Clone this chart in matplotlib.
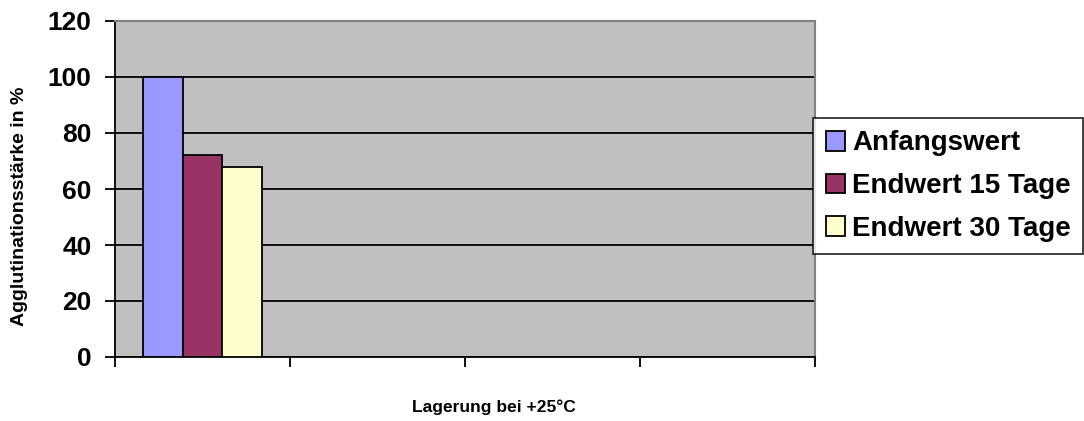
import matplotlib.pyplot as plt
import numpy as np

plt.rcParams['font.family'] = ['Liberation Sans', 'DejaVu Sans']
plt.rcParams['font.weight'] = 'bold'

# storage condition slots on the x axis (only the first one has data)
n_slots = 4
series = ["Anfangswert", "Endwert 15 Tage", "Endwert 30 Tage"]
values = [100, 72, 68]
colors = ["#9999FF", "#993366", "#FFFFCC"]
yticks = [0, 20, 40, 60, 80, 100, 120]

fig = plt.figure(figsize=(10.84, 4.21), dpi=100)
ax = fig.add_axes([115/1084, 1 - 357/421, 700/1084, 336/421])
ax.set_facecolor("#C0C0C0")

width = 0.225
offsets = (np.arange(len(series)) - 1) * width
for i, (name, v, c) in enumerate(zip(series, values, colors)):
    ax.bar(0.5 + offsets[i], v, width=width, color=c, edgecolor="black",
           linewidth=1.3, label=name, zorder=3)

ax.set_xlim(0, n_slots)
ax.set_ylim(0, 120)
ax.set_yticks(yticks)
ax.set_yticklabels([str(t) for t in yticks], fontsize=19, fontweight="bold")
ax.set_xticks(np.arange(n_slots + 1))
ax.set_xticklabels([])
ax.yaxis.grid(True, color="black", linewidth=1.3, zorder=1)
ax.set_axisbelow(True)
ax.tick_params(axis="y", length=7, width=1.3, pad=10)
ax.tick_params(axis="x", length=7, width=1.3)

for side in ["left", "bottom"]:
    ax.spines[side].set_color("black")
    ax.spines[side].set_linewidth(1.3)
for side in ["top", "right"]:
    ax.spines[side].set_color("#808080")
    ax.spines[side].set_linewidth(1.5)

fig.text(20/1084, 1 - 206/421, "Agglutinationsstärke in %", rotation=90,
         ha="center", va="center", fontsize=14, fontweight="bold")
fig.text(494/1084, 1 - 407/421, "Lagerung bei +25°C",
         ha="center", va="center", fontsize=12.5, fontweight="bold")

leg = fig.legend(loc="upper left", bbox_to_anchor=(813/1084, 1 - 118/421),
                 fontsize=20, frameon=True, fancybox=False, borderpad=0.45,
                 handlelength=0.7, handleheight=0.7, handletextpad=0.25,
                 labelspacing=0.6, borderaxespad=0)
leg.get_frame().set_edgecolor("black")
leg.get_frame().set_linewidth(1.3)
for t in leg.get_texts():
    t.set_fontweight("bold")

fig.savefig("out.png", dpi=100)
